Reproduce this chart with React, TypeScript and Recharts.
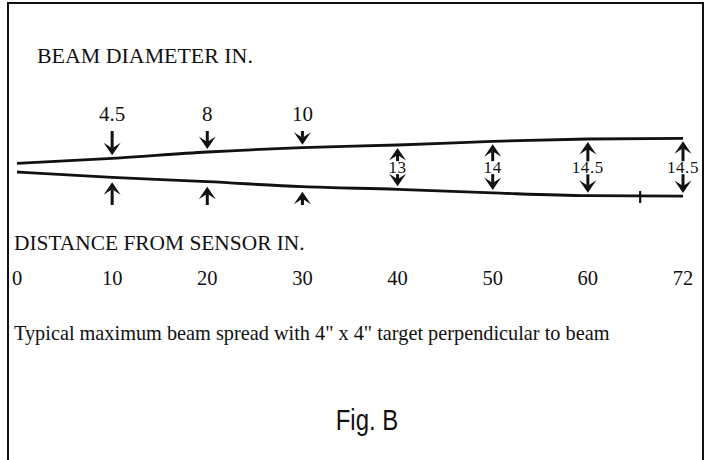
import { ComposedChart, Line, XAxis, YAxis, ReferenceLine } from "recharts";

// stations along the beam (drawn evenly spaced in the figure)
const distances = ["0", "10", "20", "30", "40", "50", "60", "72"];
const beamDiameters = ["", "4.5", "8", "10", "13", "14", "14.5", "14.5"];
// beam edges, drawing units above / below the beam axis
const upperEdge = [4.2, 9.2, 15.5, 19.8, 22.5, 26.2, 28.5, 29.2];
const lowerEdge = [-4.5, -9.8, -14.2, -19.2, -21.8, -25.4, -28.2, -28.6];
// small cross mark on the lower edge between 60 and 72
const crossMarkAt = 6.55;
const crossMarkSpan = [-23.5, -35.5];

const data = distances.map((d, i) => ({
  idx: i,
  dist: d,
  dia: beamDiameters[i],
  upper: upperEdge[i],
  lower: lowerEdge[i],
}));

const W = 707;
const H = 460;
const PLOT_TOP = 117.5;
const PLOT_BOTTOM = 262.5;
const Y_MIN = -95;
const Y_MAX = 50;
const PX = (PLOT_BOTTOM - PLOT_TOP) / (Y_MAX - Y_MIN);

const INK = "#111";
const SERIF = '"Liberation Serif", "Times New Roman", serif';
const SANS = '"Liberation Sans", Arial, sans-serif';

function Arrow({ x, tip, tail }: { x: number; tip: number; tail: number }) {
  const dir = tail > tip ? 1 : -1;
  const hl = 12.5;
  const hw = 8.5;
  const notch = 7;
  return (
    <g>
      <line x1={x} y1={tail} x2={x} y2={tip + dir * notch} stroke={INK} strokeWidth={3} />
      <path
        d={`M${x},${tip} L${x - hw},${tip + dir * hl} L${x},${tip + dir * notch} L${x + hw},${tip + dir * hl} Z`}
        fill={INK}
      />
    </g>
  );
}

const renderUpperDot = (p: any) => {
  const { cx, cy, index, payload } = p;
  if (index === 0) return <g key={`u${index}`} />;
  if (index < 4) {
    return (
      <g key={`u${index}`}>
        <text x={cx} y={121} textAnchor="middle" fontFamily={SERIF} fontSize={21} fill={INK}>
          {payload.dia}
        </text>
        <Arrow x={cx} tip={cy - 3} tail={131} />
      </g>
    );
  }
  const mid = cy + ((payload.upper - payload.lower) / 2) * PX;
  return (
    <g key={`u${index}`}>
      <Arrow x={cx} tip={cy + 3} tail={mid - 6} />
      <text
        x={cx}
        y={mid + 6}
        textAnchor="middle"
        fontFamily={SERIF}
        fontSize={17}
        letterSpacing={0.6}
        fill={INK}
      >
        {payload.dia}
      </text>
    </g>
  );
};

const renderLowerDot = (p: any) => {
  const { cx, cy, index, payload } = p;
  if (index === 0) return <g key={`l${index}`} />;
  if (index < 4) {
    return (
      <g key={`l${index}`}>
        <Arrow x={cx} tip={cy + 5} tail={205} />
      </g>
    );
  }
  const mid = cy - ((payload.upper - payload.lower) / 2) * PX;
  return (
    <g key={`l${index}`}>
      <Arrow x={cx} tip={cy - 3} tail={mid + 7} />
    </g>
  );
};

function DistTick({ x, y, payload }: any) {
  return (
    <text x={x} y={y + 14} textAnchor="middle" fontFamily={SERIF} fontSize={20.5} fill={INK}>
      {distances[payload.value]}
    </text>
  );
}

export default function App() {
  return (
    <div style={{ position: "absolute", left: 0, top: 0, width: W, height: H, background: "#fff" }}>
      <ComposedChart
        width={W}
        height={H}
        data={data}
        margin={{ top: PLOT_TOP, left: 17, right: 24, bottom: H - PLOT_BOTTOM - 30 }}
      >
        <XAxis
          dataKey="idx"
          type="number"
          domain={[0, distances.length - 1]}
          ticks={distances.map((_, i) => i)}
          axisLine={false}
          tickLine={false}
          tick={<DistTick />}
          height={30}
          interval={0}
        />
        <YAxis type="number" domain={[Y_MIN, Y_MAX]} hide />
        <Line
          dataKey="upper"
          type="monotone"
          stroke={INK}
          strokeWidth={2.8}
          dot={renderUpperDot}
          activeDot={false}
          isAnimationActive={false}
        />
        <Line
          dataKey="lower"
          type="monotone"
          stroke={INK}
          strokeWidth={2.8}
          dot={renderLowerDot}
          activeDot={false}
          isAnimationActive={false}
        />
        <ReferenceLine
          segment={[
            { x: crossMarkAt, y: crossMarkSpan[0] },
            { x: crossMarkAt, y: crossMarkSpan[1] },
          ]}
          stroke={INK}
          strokeWidth={2.2}
        />
      </ComposedChart>
      <svg
        width={W}
        height={H}
        style={{ position: "absolute", left: 0, top: 0, pointerEvents: "none" }}
      >
        <rect x={8} y={3} width={695} height={470} fill="none" stroke={INK} strokeWidth={2} />
        <text x={37} y={63} fontFamily={SERIF} fontSize={21.9} fill={INK}>
          BEAM DIAMETER IN.
        </text>
        <text x={14} y={250} fontFamily={SERIF} fontSize={21.4} fill={INK}>
          DISTANCE FROM SENSOR IN.
        </text>
        <text x={14} y={340} fontFamily={SERIF} fontSize={20.3} fill={INK}>
          Typical maximum beam spread with 4" x 4" target perpendicular to beam
        </text>
        <g transform="translate(367,430) scale(0.8,1)">
          <text x={0} y={0} textAnchor="middle" fontFamily={SANS} fontSize={30} fill={INK}>
            Fig. B
          </text>
        </g>
      </svg>
    </div>
  );
}
